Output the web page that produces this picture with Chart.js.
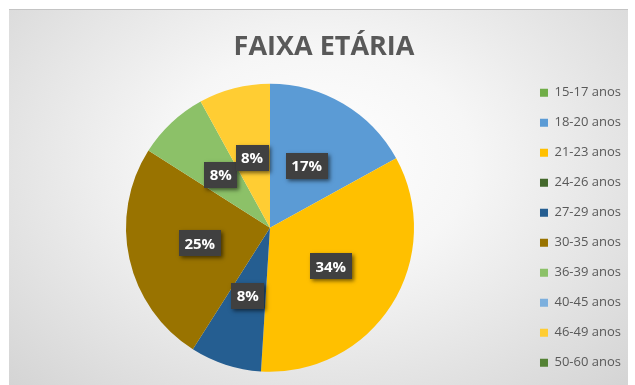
<!DOCTYPE html>
<html>
<head>
<meta charset="utf-8">
<title>Faixa etária</title>
<script src="https://cdn.jsdelivr.net/npm/chart.js@4.4.1/dist/chart.umd.min.js"></script>
<style>
    html, body {
        margin: 0;
        padding: 0;
        width: 635px;
        height: 385px;
        overflow: hidden;
        background: #ffffff;
    }
    #frame {
        position: absolute;
        left: 9px;
        top: 9px;
        width: 619px;
        height: 376px;
        border-top: 1px solid #c4c4c4;
        background: radial-gradient(ellipse at 50% 40%, #ffffff 0%, #f6f6f6 35%, #d4d4d4 100%);
    }
    #ageChart {
        position: absolute;
        left: 0;
        top: 0;
    }
</style>
</head>
<body>
<div id="frame"></div>
<canvas id="ageChart" width="631" height="388"></canvas>

<script>
// Age groups and their share (%)
const ageGroups = ['15-17 anos', '18-20 anos', '21-23 anos', '24-26 anos', '27-29 anos',
                   '30-35 anos', '36-39 anos', '40-45 anos', '46-49 anos', '50-60 anos'];
const shares = [0, 17, 34, 0, 8, 25, 8, 0, 8, 0];
const sliceColors = ['#70AD47', '#5B9BD5', '#FFC000', '#43682B', '#255E91',
                     '#997300', '#8CC168', '#7CAFDD', '#FFCD33', '#548235'];
const chartTitle = 'FAIXA ETÁRIA';

// Dark boxes with the percentage in the middle of each slice
const sliceLabels = {
    id: 'sliceLabels',
    afterDatasetsDraw(chart) {
        const ctx = chart.ctx;
        const meta = chart.getDatasetMeta(0);
        ctx.save();
        ctx.font = 'bold 15px "Open Sans"';
        ctx.textAlign = 'center';
        ctx.textBaseline = 'middle';
        meta.data.forEach((arc, i) => {
            const value = shares[i];
            if (!value) return;
            const pos = arc.tooltipPosition();
            const text = value + '%';
            const w = ctx.measureText(text).width + 11;
            const h = 26;
            ctx.shadowColor = 'rgba(0, 0, 0, 0.55)';
            ctx.shadowBlur = 4;
            ctx.shadowOffsetX = 2;
            ctx.shadowOffsetY = 2;
            ctx.fillStyle = '#404040';
            ctx.fillRect(Math.round(pos.x - w / 2), Math.round(pos.y - h / 2), Math.round(w), h);
            ctx.shadowColor = 'transparent';
            ctx.fillStyle = '#ffffff';
            ctx.fillText(text, pos.x, pos.y + 1);
        });
        ctx.restore();
    }
};

const ctxPie = document.getElementById('ageChart').getContext('2d');
const ageChart = new Chart(ctxPie, {
    type: 'pie',
    data: {
        labels: ageGroups,
        datasets: [{
            data: shares,
            backgroundColor: sliceColors,
            borderWidth: 0
        }]
    },
    options: {
        responsive: false,
        animation: false,
        radius: 144,
        layout: {
            padding: { left: 17, right: 0, top: 0, bottom: 0 }
        },
        plugins: {
            title: {
                display: true,
                text: chartTitle,
                color: '#595959',
                font: { family: '"Open Sans"', size: 27, weight: 'bold' },
                padding: { top: 31, bottom: 4 }
            },
            legend: {
                position: 'right',
                align: 'center',
                fullSize: false,
                labels: {
                    boxWidth: 8,
                    boxHeight: 8,
                    padding: 17,
                    color: '#595959',
                    font: { family: '"Open Sans"', size: 13 }
                }
            },
            tooltip: { enabled: false }
        }
    },
    plugins: [sliceLabels]
});
</script>
</body>
</html>
